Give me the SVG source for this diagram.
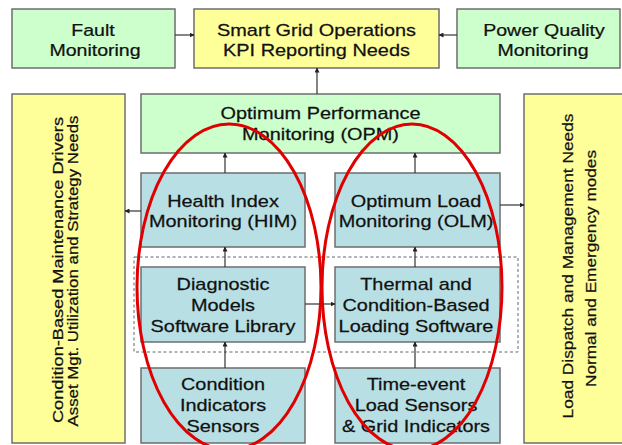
<svg xmlns="http://www.w3.org/2000/svg" width="622" height="445" viewBox="0 0 622 445">
<style>
.g{fill:#ccffcc;stroke:#6e6e6e;stroke-width:1.5}
.y{fill:#ffff99;stroke:#6e6e6e;stroke-width:1.5}
.b{fill:#b8e0e4;stroke:#6e6e6e;stroke-width:1.5}
text{font-family:"Liberation Sans",Arial,sans-serif;font-size:17px;fill:#111;stroke:#111;stroke-width:0.25;text-anchor:middle}
.r{font-size:15.5px}
.c line{stroke:#333;stroke-width:1.2;marker-end:url(#ah)}
.ov{fill:none;stroke:#e00000;stroke-width:3}
</style>
<defs>
<marker id="ah" viewBox="0 0 10 10" refX="9" refY="5" markerWidth="5" markerHeight="5" orient="auto" markerUnits="userSpaceOnUse">
<path d="M0,0 L10,5 L0,10 z" fill="#222"/>
</marker>
</defs>
<rect width="622" height="445" fill="#fff"/>
<rect x="134" y="257" width="384" height="95" fill="none" stroke="#666" stroke-width="1" stroke-dasharray="3,2.5"/>
<g id="fault"><rect class="g" x="12" y="9" width="163" height="59"/>
<text transform="matrix(1.15 0 0 1 93 0)" y="36">Fault</text><text transform="matrix(1.15 0 0 1 95 0)" y="56">Monitoring</text></g>
<g id="sg"><rect class="y" x="194" y="9" width="245" height="59"/>
<text transform="matrix(1.17 0 0 1 316.5 0)" y="36">Smart Grid Operations</text><text transform="matrix(1.17 0 0 1 316.5 0)" y="56">KPI Reporting Needs</text></g>
<g id="pq"><rect class="g" x="457" y="9" width="163" height="59"/>
<text transform="matrix(1.15 0 0 1 544 0)" y="36">Power Quality</text><text transform="matrix(1.15 0 0 1 543 0)" y="56">Monitoring</text></g>
<g id="cbm"><rect class="y" x="12" y="94" width="113" height="349"/>
<text class="r" transform="translate(63,270) rotate(-90)" x="0" y="0" textLength="306" lengthAdjust="spacingAndGlyphs">Condition-Based Maintenance Drivers</text>
<text class="r" transform="translate(78,271) rotate(-90)" x="0" y="0" textLength="311" lengthAdjust="spacingAndGlyphs">Asset Mgt. Utilization and Strategy  Needs</text></g>
<g id="opm"><rect class="g" x="141" y="94" width="359" height="59"/>
<text transform="matrix(1.17 0 0 1 320.5 0)" y="119">Optimum Performance</text><text transform="matrix(1.17 0 0 1 320.5 0)" y="140">Monitoring (OPM)</text></g>
<g id="ld"><rect class="y" x="524" y="94" width="102" height="349"/>
<text class="r" transform="translate(573,266) rotate(-90)" x="0" y="0" textLength="305" lengthAdjust="spacingAndGlyphs">Load Dispatch and Management Needs</text>
<text class="r" transform="translate(596,268.5) rotate(-90)" x="0" y="0" textLength="237" lengthAdjust="spacingAndGlyphs">Normal and Emergency modes</text></g>
<g id="him"><rect class="b" x="141" y="173" width="164" height="74"/>
<text transform="matrix(1.17 0 0 1 223 0)" y="207">Health Index</text><text transform="matrix(1.17 0 0 1 223 0)" y="227">Monitoring (HIM)</text></g>
<g id="olm"><rect class="b" x="335" y="173" width="165" height="74"/>
<text transform="matrix(1.17 0 0 1 416 0)" y="207">Optimum Load</text><text transform="matrix(1.17 0 0 1 416 0)" y="227">Monitoring (OLM)</text></g>
<g id="diag"><rect class="b" x="141" y="267" width="164" height="75"/>
<text transform="matrix(1.17 0 0 1 223 0)" y="290">Diagnostic</text><text transform="matrix(1.17 0 0 1 223 0)" y="311">Models</text><text transform="matrix(1.17 0 0 1 223 0)" y="332">Software Library</text></g>
<g id="therm"><rect class="b" x="335" y="267" width="165" height="75"/>
<text transform="matrix(1.17 0 0 1 416 0)" y="290">Thermal and</text><text transform="matrix(1.17 0 0 1 416 0)" y="311">Condition-Based</text><text transform="matrix(1.17 0 0 1 416 0)" y="332">Loading Software</text></g>
<g id="cond"><rect class="b" x="141" y="368" width="164" height="75"/>
<text transform="matrix(1.17 0 0 1 223 0)" y="390">Condition</text><text transform="matrix(1.17 0 0 1 223 0)" y="411">Indicators</text><text transform="matrix(1.17 0 0 1 223 0)" y="432">Sensors</text></g>
<g id="time"><rect class="b" x="335" y="368" width="165" height="75"/>
<text transform="matrix(1.17 0 0 1 416 0)" y="390">Time-event</text><text transform="matrix(1.17 0 0 1 416 0)" y="411">Load Sensors</text><text transform="matrix(1.17 0 0 1 416 0)" y="432">&amp; Grid Indicators</text></g>
<g id="connectors" class="c">
<line x1="175" y1="35" x2="194" y2="35"/>
<line x1="457" y1="35" x2="439" y2="35"/>
<line x1="317" y1="94" x2="317" y2="68"/>
<line x1="225" y1="173" x2="225" y2="153"/>
<line x1="415" y1="173" x2="415" y2="153"/>
<line x1="141" y1="211" x2="125" y2="211"/>
<line x1="500" y1="205" x2="524" y2="205"/>
<line x1="225" y1="267" x2="225" y2="247"/>
<line x1="415" y1="267" x2="415" y2="247"/>
<line x1="305" y1="304" x2="335" y2="304"/>
<line x1="225" y1="368" x2="225" y2="342"/>
<line x1="415" y1="368" x2="415" y2="342"/>
</g>
<g id="ovals">
<ellipse class="ov" cx="229" cy="287" rx="92" ry="163"/>
<ellipse class="ov" cx="412" cy="287" rx="90" ry="163"/>
</g>
</svg>
